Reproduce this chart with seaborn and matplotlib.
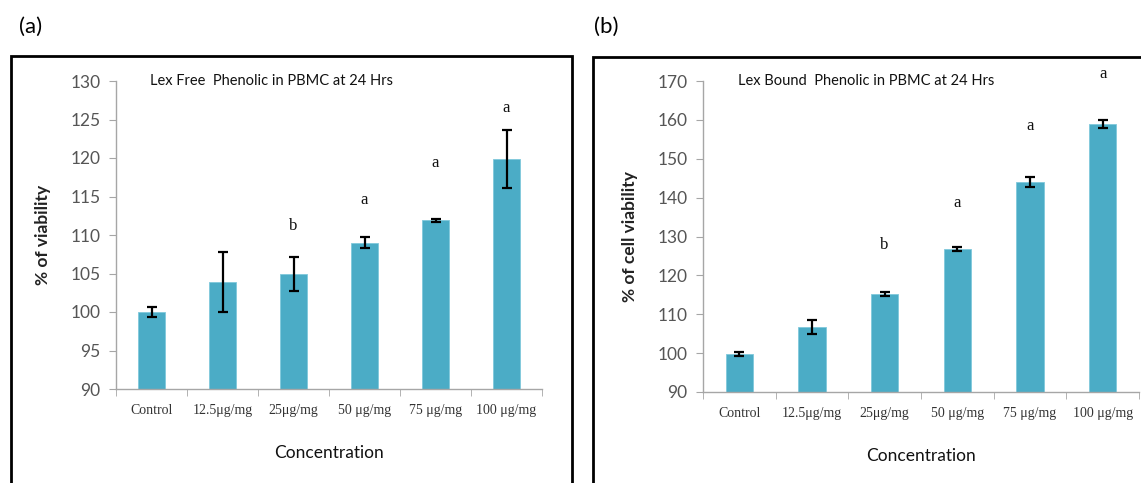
import matplotlib
matplotlib.use("Agg")
import matplotlib.pyplot as plt
import seaborn as sns
import pandas as pd
import numpy as np
from matplotlib.patches import Rectangle
from matplotlib.ticker import FixedLocator

categories = ["Control", "12.5μg/mg", "25μg/mg", "50 μg/mg", "75 μg/mg", "100 μg/mg"]

free_values = [100.0, 103.9, 104.9, 109.0, 111.9, 119.9]
free_errors = [0.6, 3.9, 2.2, 0.7, 0.2, 3.8]
free_letters = ["", "", "b", "a", "a", "a"]
free_letter_y = [None, None, 111.2, 114.6, 119.3, 126.5]

bound_values = [99.8, 106.7, 115.2, 126.8, 144.0, 159.0]
bound_errors = [0.5, 1.7, 0.6, 0.6, 1.3, 1.0]
bound_letters = ["", "", "b", "a", "a", "a"]
bound_letter_y = [None, None, 127.8, 138.6, 158.4, 171.8]

sns.set_style("white")
plt.rcParams["font.family"] = ["Lato", "DejaVu Sans"]

BAR = "#4BACC6"
W, H = 1141, 483
fig = plt.figure(figsize=(W / 100, H / 100), dpi=100)

def px(x0, y0, x1, y1):
    return [x0 / W, 1 - y1 / H, (x1 - x0) / W, (y1 - y0) / H]

def panel(rect, values, errors, letters, letter_y, ylim, yticks, title, ylabel):
    ax = fig.add_axes(rect)
    df = pd.DataFrame({"cat": categories, "val": values})
    sns.barplot(data=df, x="cat", y="val", color=BAR, width=0.38,
                errorbar=None, saturation=1, ax=ax, edgecolor="#7FC8DB", linewidth=0.6)
    ax.errorbar(np.arange(len(values)), values, yerr=errors, fmt="none",
                ecolor="black", elinewidth=1.6, capsize=3.5, capthick=1.6, zorder=5)
    ax.set_ylim(*ylim)
    ax.set_xlim(-0.5, len(values) - 0.5)
    ax.set_yticks(yticks)
    ax.tick_params(axis="y", labelsize=12.5, labelcolor="#555555", length=5,
                   color="#A6A6A6", direction="out", left=True, pad=6)
    ax.tick_params(axis="x", which="major", length=0, pad=11)
    ax.xaxis.set_minor_locator(FixedLocator(np.arange(-0.5, len(values), 1.0)))
    ax.tick_params(axis="x", which="minor", length=5, color="#A6A6A6",
                   direction="out", bottom=True)
    for lab in ax.get_xticklabels():
        lab.set_fontfamily("Liberation Serif")
        lab.set_fontsize(10)
        lab.set_color("#333333")
    for side in ["top", "right"]:
        ax.spines[side].set_visible(False)
    for side in ["left", "bottom"]:
        ax.spines[side].set_color("#A6A6A6")
        ax.spines[side].set_linewidth(1.0)
    ax.set_xlabel("Concentration", fontsize=12.5, color="#111111", labelpad=20)
    ax.set_ylabel(ylabel, fontsize=12.5, fontweight="bold", color="#222222", labelpad=14)
    ax.text(0.08, 1.0, title, transform=ax.transAxes, fontsize=10.5,
            color="#111111", va="center", ha="left")
    for i, (l, y) in enumerate(zip(letters, letter_y)):
        if l:
            ax.text(i, y, l, ha="center", va="center", fontsize=12,
                    family="Liberation Serif", color="#111111", clip_on=False)
    return ax

panel(px(116, 81, 542, 389), free_values, free_errors, free_letters, free_letter_y,
      (90, 130), np.arange(90, 131, 5), "Lex Free  Phenolic in PBMC at 24 Hrs", "% of viability")
panel(px(703, 81, 1139, 392), bound_values, bound_errors, bound_letters, bound_letter_y,
      (90, 170), np.arange(90, 171, 10), "Lex Bound  Phenolic in PBMC at 24 Hrs", "% of cell viability")

# panel frames
fig.patches.append(Rectangle((11 / W, -0.05), (572 - 11) / W, 1 - 56 / H + 0.05,
                             transform=fig.transFigure, fill=False, edgecolor="black",
                             linewidth=2, zorder=0))
fig.patches.append(Rectangle((593 / W, -0.05), (1160 - 593) / W, 1 - 57 / H + 0.05,
                             transform=fig.transFigure, fill=False, edgecolor="black",
                             linewidth=2, zorder=0))

fig.text(19 / W, 1 - 27 / H, "(a)", fontsize=16, va="center", ha="left", color="black")
fig.text(594 / W, 1 - 27 / H, "(b)", fontsize=16, va="center", ha="left", color="black")

fig.savefig("out.png", dpi=100)
